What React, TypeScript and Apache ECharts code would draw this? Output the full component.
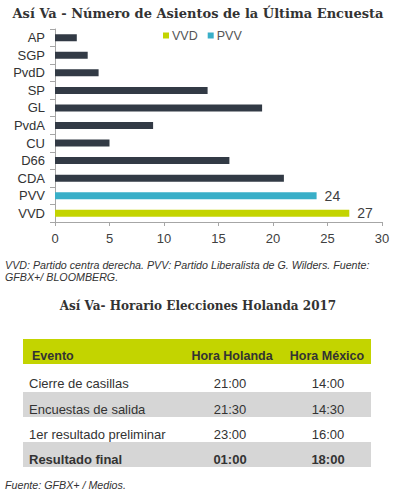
import React, { useEffect, useRef } from "react";
import * as echarts from "echarts";

const chartTitle = "Así Va - Número de Asientos de la Última Encuesta";
const categories = ["AP", "SGP", "PvdD", "SP", "GL", "PvdA", "CU", "D66", "CDA", "PVV", "VVD"];
const otherSeats = [2, 3, 4, 14, 19, 9, 5, 16, 21, null, null];
const pvvSeats = [null, null, null, null, null, null, null, null, null, 24, null];
const vvdSeats = [null, null, null, null, null, null, null, null, null, null, 27];
const xTicks = { min: 0, max: 30, interval: 5 };
const note1 = "VVD: Partido centra derecha. PVV: Partido Liberalista de G. Wilders. Fuente:";
const note2 = "GFBX+/ BLOOMBERG.";
const tableTitle = "Así Va- Horario Elecciones Holanda 2017";
const tableHeader = ["Evento", "Hora Holanda", "Hora México"];
const tableRows = [
  ["Cierre de casillas", "21:00", "14:00"],
  ["Encuestas de salida", "21:30", "14:30"],
  ["1er resultado preliminar", "23:00", "16:00"],
  ["Resultado final", "01:00", "18:00"],
];
const footer = "Fuente: GFBX+ / Medios.";

const DARK = "#323a45";
const PVV_C = "#39afc8";
const VVD_C = "#c3d400";
const SANS = "Liberation Sans, Arial, sans-serif";
const SERIF = "DejaVu Serif, serif";

export default function App() {
  const ref = useRef<HTMLDivElement>(null);
  useEffect(() => {
    if (!ref.current) return;
    const chart = echarts.init(ref.current, undefined, { renderer: "svg" });

    const graphic: any[] = [];
    graphic.push({
      type: "text", x: 198, y: 13,
      style: { text: chartTitle, font: `bold 13px ${SERIF}`, fill: "#333", textAlign: "center", textVerticalAlign: "middle" },
    });
    graphic.push({
      type: "text", x: 5, y: 265,
      style: { text: note1, font: `italic 10.7px ${SANS}`, fill: "#333", textVerticalAlign: "middle" },
    });
    graphic.push({
      type: "text", x: 5, y: 277,
      style: { text: note2, font: `italic 10.7px ${SANS}`, fill: "#333", textVerticalAlign: "middle" },
    });
    graphic.push({
      type: "text", x: 198, y: 306,
      style: { text: tableTitle, font: `bold 12px ${SERIF}`, fill: "#333", textAlign: "center", textVerticalAlign: "middle" },
    });
    // table
    const tx0 = 23, tx1 = 371;
    graphic.push({ type: "rect", shape: { x: tx0, y: 339, width: tx1 - tx0, height: 25 }, style: { fill: VVD_C } });
    const colX = [32, 232, 327];
    tableHeader.forEach((h, i) => {
      graphic.push({
        type: "text", x: colX[i], y: 356,
        style: { text: h, font: `bold 12.5px ${SANS}`, fill: "#333", textAlign: i === 0 ? "left" : "center", textVerticalAlign: "middle" },
      });
    });
    const rowY = [383, 409, 434, 459];
    const rowX = [29, 230, 328];
    tableRows.forEach((row, r) => {
      if (r % 2 === 1) {
        graphic.push({ type: "rect", shape: { x: tx0, y: rowY[r] - 17, width: tx1 - tx0, height: 25 }, style: { fill: "#d6d6d6" } });
      }
      row.forEach((cell, c) => {
        graphic.push({
          type: "text", x: rowX[c], y: rowY[r],
          style: {
            text: cell,
            font: `${r === tableRows.length - 1 ? "bold " : ""}13px ${SANS}`,
            fill: "#333",
            textAlign: c === 0 ? "left" : "center",
            textVerticalAlign: "middle",
          },
        });
      });
    });
    graphic.push({
      type: "text", x: 5, y: 485,
      style: { text: footer, font: `italic 10.7px ${SANS}`, fill: "#333", textVerticalAlign: "middle" },
    });

    const labelStyle = { show: true, position: "right", distance: 8, fontSize: 14, color: "#404040", fontFamily: SANS };

    chart.setOption({
      animation: false,
      backgroundColor: "#fff",
      legend: {
        data: ["VVD", "PVV"],
        left: 158, top: 24,
        icon: "rect", itemWidth: 6, itemHeight: 6, itemGap: 10,
        textStyle: { fontSize: 12.5, color: "#555", fontFamily: SANS, padding: [0, 0, 0, -2] },
      },
      grid: { left: 55, right: 14, top: 29, bottom: 273, containLabel: false },
      xAxis: {
        type: "value", min: xTicks.min, max: xTicks.max, interval: xTicks.interval,
        splitLine: { show: false },
        axisLine: { show: true, lineStyle: { color: "#a6a6a6" } },
        axisTick: { show: true, length: 4, lineStyle: { color: "#a6a6a6" } },
        axisLabel: { fontSize: 13, color: "#404040", fontFamily: SANS, margin: 10 },
      },
      yAxis: {
        type: "category", data: categories, inverse: true,
        axisLine: { show: true, lineStyle: { color: "#a6a6a6" } },
        axisTick: { show: true, length: 5, lineStyle: { color: "#a6a6a6" } },
        axisLabel: { fontSize: 13, color: "#333", fontFamily: SANS, margin: 10 },
      },
      series: [
        { name: "Otros", type: "bar", data: otherSeats, barWidth: 7, barGap: "-100%", itemStyle: { color: DARK } },
        { name: "PVV", type: "bar", data: pvvSeats, barWidth: 7, barGap: "-100%", itemStyle: { color: PVV_C }, label: labelStyle },
        { name: "VVD", type: "bar", data: vvdSeats, barWidth: 7, barGap: "-100%", itemStyle: { color: VVD_C }, label: labelStyle },
      ],
      graphic,
    });
    return () => chart.dispose();
  }, []);
  return <div ref={ref} style={{ position: "fixed", left: 0, top: 0, width: 396, height: 495 }} />;
}
